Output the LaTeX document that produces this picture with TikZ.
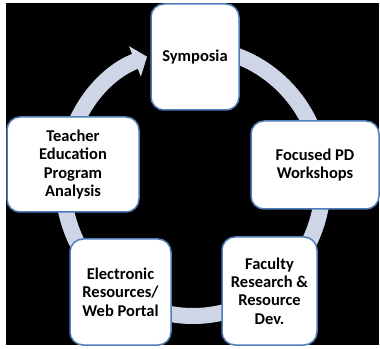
\documentclass[tikz,border=0pt]{standalone}
\usepackage{fontspec}
\setmainfont{Carlito}
\usepackage{xcolor}
\usetikzlibrary{arrows.meta}
\definecolor{ringblue}{HTML}{CDD5E6}
\definecolor{edgeblue}{HTML}{4F7DB8}

\begin{document}
\begin{tikzpicture}[x=1pt,y=1pt,
    stage/.style={draw=edgeblue,line width=1.5pt,fill=white,rounded corners=13pt,
        align=center,inner sep=0pt,font=\fontsize{16.5}{18.4}\selectfont\bfseries}]
    \useasboundingbox (0,0) rectangle (380,348);
    \fill[black] (6,3) rectangle (379,345);
    \coordinate (ctr) at (193,166);
    \draw[ringblue,line width=16pt,-{Triangle[width=32pt,length=13pt]}]
        (ctr) ++(90:130pt and 134pt) arc[start angle=90,end angle=-249.3,x radius=130,y radius=134];
    \node[stage,minimum width=88pt,minimum height=106pt] (sym) at (195,291) {Symposia};
    \node[stage,minimum width=128pt,minimum height=88pt] (foc) at (315,183) {Focused PD\\Workshops};
    \node[stage,minimum width=95pt,minimum height=108pt] (fac) at (269.5,57) {Faculty\\Research \&\\Resource\\Dev.};
    \node[stage,minimum width=101pt,minimum height=106pt] (ele) at (120.5,56) {Electronic\\Resources/\\Web Portal};
    \node[stage,minimum width=132pt,minimum height=95pt] (tea) at (73,183.5) {Teacher\\Education\\Program\\Analysis};
\end{tikzpicture}
\end{document}
